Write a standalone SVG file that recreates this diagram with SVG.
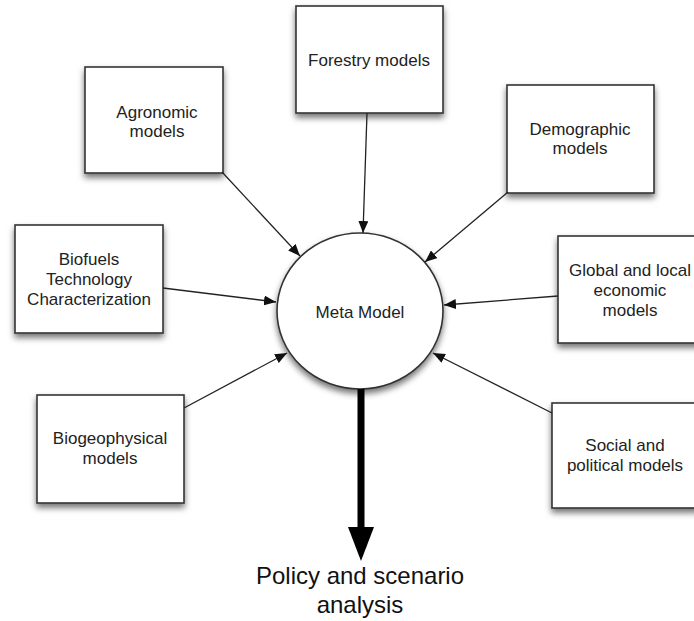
<svg xmlns="http://www.w3.org/2000/svg" width="694" height="621" viewBox="0 0 694 621">
  <style>
    .box { fill: #ffffff; stroke: #333333; stroke-width: 1.6; filter: url(#shadow); }
    .lbl { font-family: "Liberation Sans", Arial, sans-serif; font-size: 17px; fill: #222222; text-anchor: middle; }
    .out { font-family: "Liberation Sans", Arial, sans-serif; font-size: 24px; fill: #111111; text-anchor: middle; }
    .link { stroke: #222222; stroke-width: 1.3; fill: none; marker-end: url(#head); }
  </style>
  <defs>
    <filter id="shadow" x="-20%" y="-20%" width="140%" height="150%">
      <feDropShadow dx="0" dy="4" stdDeviation="3" flood-color="#000000" flood-opacity="0.55"/>
    </filter>
    <marker id="head" viewBox="0 0 12 10" refX="12" refY="5" markerWidth="12" markerHeight="10" markerUnits="userSpaceOnUse" orient="auto">
      <path d="M0,0 L12,5 L0,10 Z" fill="#111111"/>
    </marker>
  </defs>

  <!-- source models -->
  <g id="forestry">
    <rect class="box" x="296" y="6" width="147" height="107"/>
    <text class="lbl" x="369" y="66">Forestry models</text>
  </g>
  <g id="agronomic">
    <rect class="box" x="85" y="67" width="138" height="106"/>
    <text class="lbl" x="157" y="118">Agronomic</text>
    <text class="lbl" x="157" y="137">models</text>
  </g>
  <g id="demographic">
    <rect class="box" x="507" y="85" width="147" height="108"/>
    <text class="lbl" x="580" y="135">Demographic</text>
    <text class="lbl" x="580" y="154">models</text>
  </g>
  <g id="biofuels">
    <rect class="box" x="15" y="225" width="148" height="108"/>
    <text class="lbl" x="89" y="265">Biofuels</text>
    <text class="lbl" x="89" y="285">Technology</text>
    <text class="lbl" x="89" y="305">Characterization</text>
  </g>
  <g id="global">
    <rect class="box" x="558" y="236" width="147" height="107"/>
    <text class="lbl" x="630" y="276">Global and local</text>
    <text class="lbl" x="630" y="296">economic</text>
    <text class="lbl" x="630" y="316">models</text>
  </g>
  <g id="biogeophysical">
    <rect class="box" x="37" y="395" width="147" height="108"/>
    <text class="lbl" x="110" y="444">Biogeophysical</text>
    <text class="lbl" x="110" y="464">models</text>
  </g>
  <g id="social">
    <rect class="box" x="552" y="403" width="147" height="105"/>
    <text class="lbl" x="625" y="451">Social and</text>
    <text class="lbl" x="625" y="471">political models</text>
  </g>

  <!-- central node -->
  <g id="meta">
    <ellipse class="box" cx="360" cy="311" rx="83" ry="78"/>
    <text class="lbl" x="360" y="318">Meta Model</text>
  </g>

  <g id="outcome">
    <text class="out" x="360" y="584">Policy and scenario</text>
    <text class="out" x="360" y="613">analysis</text>
  </g>

  <!-- connectors -->
  <g id="connectors">
    <line class="link" x1="367" y1="113" x2="363" y2="233"/>
    <line class="link" x1="222" y1="172" x2="300" y2="256"/>
    <line class="link" x1="508" y1="192" x2="425" y2="262"/>
    <line class="link" x1="163" y1="288" x2="276" y2="302"/>
    <line class="link" x1="558" y1="296" x2="444" y2="305"/>
    <line class="link" x1="184" y1="408" x2="287" y2="353"/>
    <line class="link" x1="552" y1="413" x2="433" y2="353"/>
    <line x1="361" y1="389" x2="361" y2="530" stroke="#000000" stroke-width="7"/>
    <path d="M348,527 L374,527 L361,561 Z" fill="#000000"/>
  </g>
</svg>
